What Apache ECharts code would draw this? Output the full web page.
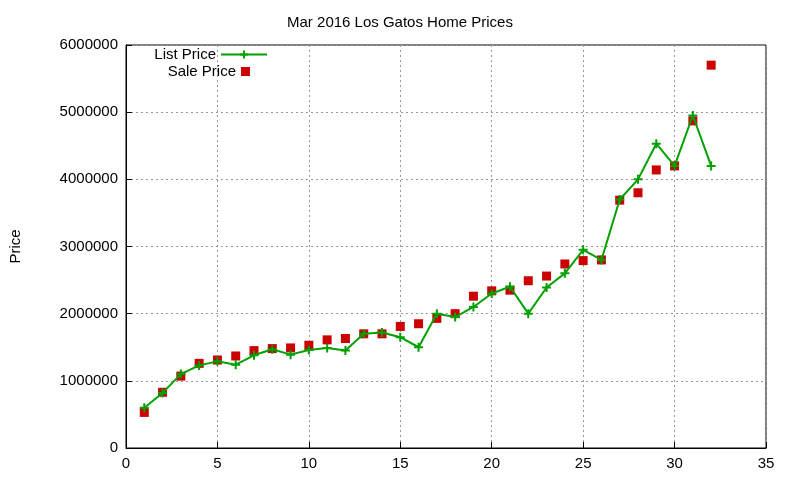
<!DOCTYPE html><html><head><meta charset="utf-8"><script src="https://cdn.jsdelivr.net/npm/echarts@6/dist/echarts.min.js"></script>
<style>html,body{margin:0;background:#fff}#c{width:800px;height:480px}</style></head><body><div id="c"></div><script>
const days=[1,2,3,4,5,6,7,8,9,10,11,12,13,14,15,16,17,18,19,20,21,22,23,24,25,26,27,28,29,30,31,32];
const listPrice=[600000,820000,1100000,1230000,1290000,1240000,1380000,1470000,1390000,1460000,1490000,1450000,1700000,1720000,1650000,1500000,2000000,1950000,2100000,2300000,2400000,2000000,2390000,2600000,2950000,2800000,3700000,4000000,4530000,4200000,4950000,4200000];
const salePrice=[530000,830000,1070000,1260000,1310000,1370000,1450000,1480000,1490000,1530000,1610000,1630000,1700000,1700000,1810000,1850000,1930000,2000000,2260000,2340000,2350000,2490000,2560000,2740000,2790000,2800000,3690000,3800000,4140000,4200000,4870000,5700000];
const font='"Liberation Sans", Arial, sans-serif';
const ax={axisLine:{lineStyle:{color:'#000'}},axisTick:{inside:true,length:6,lineStyle:{color:'#000'}},axisLabel:{color:'#000',fontSize:15,fontFamily:font},splitLine:{show:true,lineStyle:{color:'#999',type:[2,3]}}};
const plus='path://M-1,0L1,0M0,-1L0,1Z';
const lt={fontSize:15,fontFamily:font,color:'#000'};
echarts.init(document.getElementById('c')).setOption({
animation:false,
title:{text:'Mar 2016 Los Gatos Home Prices',left:'center',top:10,textStyle:{fontSize:15,fontWeight:'normal',color:'#000',fontFamily:font}},
grid:{left:119,right:34,top:45,bottom:32,show:true,borderColor:'#000'},
legend:[
{top:47,right:532,padding:0,align:'right',itemWidth:46,itemHeight:10,textStyle:lt,data:['List Price']},
{top:64,right:550,padding:0,align:'right',itemWidth:9,itemHeight:9,textStyle:lt,data:['Sale Price']}
],
xAxis:Object.assign({type:'value',min:0,max:35,interval:5},ax),
yAxis:Object.assign({type:'value',min:0,max:6000000,interval:1000000,name:'Price',nameLocation:'middle',nameGap:103,nameTextStyle:lt},ax,{axisLabel:Object.assign({},ax.axisLabel,{formatter:v=>String(v)})}),
series:[
{name:'List Price',type:'line',data:days.map((d,i)=>[d,listPrice[i]]),lineStyle:{color:'#00a000',width:2},itemStyle:{color:'#00a000',borderColor:'#00a000',borderWidth:2},symbol:plus,symbolSize:9,showAllSymbol:true},
{name:'Sale Price',type:'scatter',data:days.map((d,i)=>[d,salePrice[i]]),itemStyle:{color:'#cc0000',opacity:1},symbol:'rect',symbolSize:9}
]});
</script></body></html>
